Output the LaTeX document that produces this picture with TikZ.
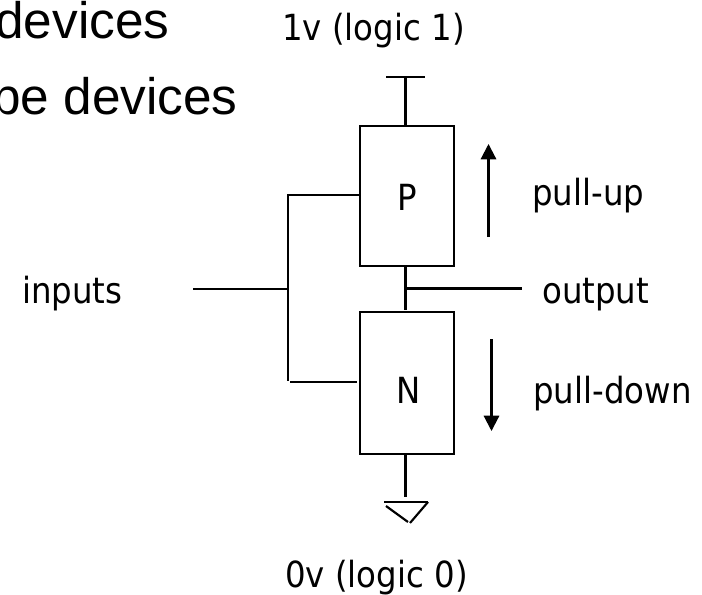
\documentclass[tikz,border=0pt]{standalone}
\usepackage{fontspec}
\setmainfont{DejaVu Sans}[FakeStretch=0.90]
\newfontfamily\headfont{Liberation Sans}
\usetikzlibrary{arrows.meta}
\begin{document}
\begin{tikzpicture}[x=0.75pt,y=-0.75pt,
  wire/.style={line width=1.6pt,line cap=butt},
  dev/.style={draw,line width=1.6pt,minimum width=70.5pt,inner sep=0pt},
  lab/.style={font=\fontsize{27}{30}\selectfont,inner sep=0pt,anchor=base west},
  devlab/.style={font=\fontsize{27}{30}\selectfont,inner sep=0pt,anchor=base},
  head/.style={font=\headfont\fontsize{38.5}{44}\selectfont,inner sep=0pt,anchor=base west},
  flow/.style={line width=1.6pt,-{Triangle[length=11.5pt,width=11.5pt]}}]
\useasboundingbox (0,0) rectangle (702,595);
\begin{scope}
\clip (0,0) rectangle (702,595);
\node[head] (h1) at (-5,39) {devices};
\node[head] (h2) at (-8,115) {pe devices};
\end{scope}
\node[lab] (vdd) at (282,41) {1v (logic 1)};
\node[lab] (gnd) at (285,587) {0v (logic 0)};
\node[lab] (in) at (22,303) {inputs};
\node[lab] (out) at (542,303) {output};
\node[lab] (pu) at (532,205) {pull-up};
\node[lab] (pd) at (533,403) {pull-down};
\node[dev,minimum height=105pt] (P) at (407,196) {};
\node[dev,minimum height=106.5pt] (N) at (407,383) {};
\node[devlab] (Pl) at (407,210) {P};
\node[devlab] (Nl) at (409,403) {N};
\coordinate (vtop) at (405.5,77);
\coordinate (vl) at (386,77);
\coordinate (vr) at (425,77);
\draw[wire] (vl) -- (vr);
\draw[wire] (vtop) -- (vtop |- P.north);
\coordinate (mb) at (405.5,310);
\draw[wire] (mb |- P.south) -- (mb);
\coordinate (oj) at (405.5,288.5);
\coordinate (oe) at (521.5,288.5);
\draw[wire] (oj) -- (oe);
\coordinate (is) at (193,289);
\coordinate (ij) at (288,289);
\coordinate (bt) at (288,195);
\coordinate (bb) at (288,381);
\coordinate (bh) at (290,382);
\coordinate (bn) at (357,382);
\draw[wire] (is) -- (ij);
\draw[wire] (P.west |- bt) -- (bt) -- (bb);
\draw[wire] (bh) -- (bn);
\coordinate (gs) at (405.5,497);
\coordinate (gl) at (384,502);
\coordinate (gr) at (428,502);
\draw[wire] (gs |- N.south) -- (gs);
\draw[wire] (gl) -- (gr);
\coordinate (g1) at (386,506);
\coordinate (g2) at (408,522);
\coordinate (g3) at (410,523);
\draw[wire] (g1) -- (g2);
\draw[wire] (gr) -- (g3);
\coordinate (a1) at (488.5,237);
\coordinate (a2) at (488.5,144);
\draw[flow] (a1) -- (a2);
\coordinate (b1) at (491.5,339);
\coordinate (b2) at (491.5,431);
\draw[flow] (b1) -- (b2);
\end{tikzpicture}
\end{document}
